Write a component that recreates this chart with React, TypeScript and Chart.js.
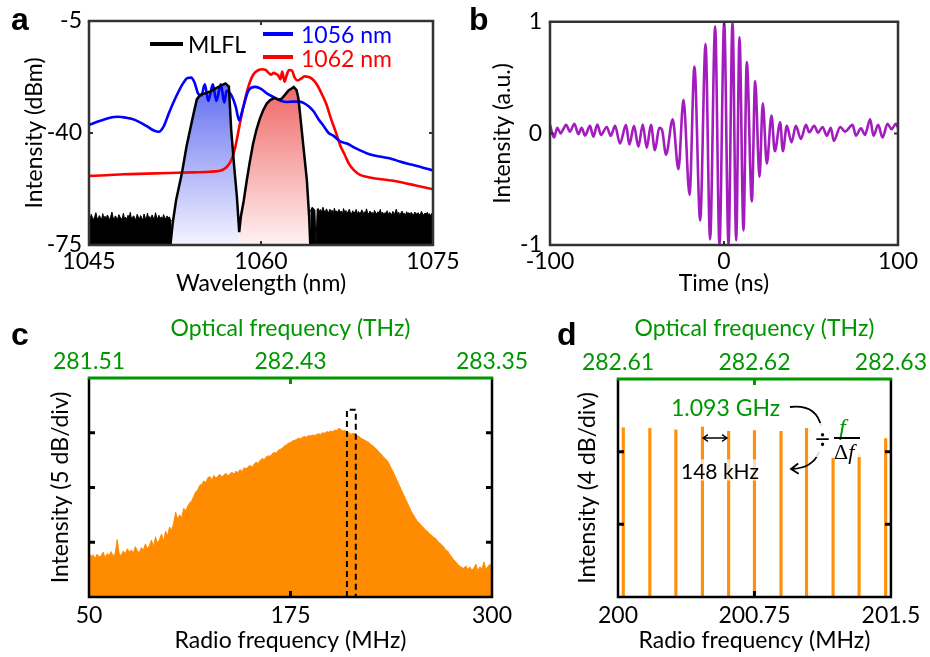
import React, { useEffect, useRef } from 'react';
import { Chart, registerables } from 'chart.js';
Chart.register(...registerables);

type Pt = [number, number];

const FONT = 'Lato, "Open Sans", sans-serif';
const SERIF = '"Liberation Serif", "DejaVu Serif", serif';
const GREEN = 'rgb(0,150,0)';
const ORANGE = 'rgb(255,140,0)';
const PURPLE = 'rgb(163,29,190)';

// ---------------- Panel a ----------------
const aWavelengthTicks = [1045, 1060, 1075];
const aIntensityTicks = [-75, -40, -5];
const aBlue1056: Pt[] = [[1045,-37.5],[1046,-36.2],[1047,-35.1],[1047.5,-34.9],[1048.2,-35.2],[1049,-35.9],[1050,-37.8],[1050.7,-39.3],[1051.1,-39.6],[1051.5,-38],[1052,-33.5],[1052.6,-28.6],[1053.2,-24.5],[1053.6,-22.8],[1053.9,-22.7],[1054.2,-24.2],[1054.5,-27.6],[1054.8,-28.3],[1055.1,-24.8],[1055.4,-30.0],[1055.8,-24.8],[1056.1,-30.0],[1056.5,-24.8],[1056.8,-30.5],[1057,-26.8],[1057.4,-28.1],[1057.8,-31.8],[1058.1,-36.1],[1058.4,-32.6],[1058.9,-26.8],[1059.5,-25.6],[1060,-26.2],[1060.5,-27.6],[1061.1,-28.8],[1061.7,-29.9],[1062.3,-30.3],[1062.8,-30.2],[1063.3,-30.2],[1063.7,-30.6],[1064.2,-31.8],[1064.6,-33.3],[1065,-35.6],[1065.4,-37.5],[1065.9,-40],[1066.3,-40.8],[1066.9,-42.6],[1067.5,-43.3],[1068.1,-44.5],[1068.7,-45.5],[1069.2,-46.3],[1070,-47.1],[1070.7,-47.6],[1071.4,-48.1],[1072.1,-48.9],[1072.8,-49.6],[1073.6,-50.3],[1074.3,-51.0],[1075,-51.7]];
const aRed1062: Pt[] = [[1045,-53.4],[1046.5,-53.2],[1048,-52.9],[1050,-52.7],[1052,-52.5],[1054,-52.3],[1055.5,-52.1],[1056.3,-51.9],[1056.8,-51.2],[1057.2,-49.8],[1057.5,-47.6],[1057.75,-44.5],[1058,-40],[1058.3,-34.5],[1058.6,-29.6],[1058.9,-25.5],[1059.2,-22.6],[1059.5,-21],[1059.8,-20.3],[1060.1,-20.1],[1060.4,-20.3],[1060.7,-21.3],[1060.9,-21.8],[1061.1,-21.2],[1061.3,-21.5],[1061.5,-22.0],[1061.7,-23.2],[1061.85,-20.8],[1062.05,-24.0],[1062.25,-21.8],[1062.45,-20.3],[1062.7,-20.5],[1062.95,-22.8],[1063.2,-23.6],[1063.5,-23.0],[1063.8,-22.3],[1064.1,-22.4],[1064.5,-23.2],[1064.9,-25],[1065.3,-27.8],[1065.7,-31],[1066.1,-35.5],[1066.5,-39.5],[1066.9,-43.8],[1067.3,-46.8],[1067.7,-49.8],[1068.1,-51.6],[1068.6,-53],[1069.2,-53.7],[1070,-54.2],[1071.5,-54.9],[1072.5,-55.6],[1073.5,-56.4],[1075,-57.6]];
const aMlflPeakLeft: Pt[] = [[1052.1,-75],[1052.3,-68.2],[1052.6,-60.9],[1053.1,-52.6],[1053.5,-44.3],[1054,-35.9],[1054.4,-29.5],[1054.7,-28.1],[1055.1,-27.6],[1055.6,-27.0],[1056.1,-26.0],[1056.6,-25.0],[1056.9,-24.5],[1057.2,-25.5],[1057.4,-39.0],[1057.65,-50.0],[1057.9,-60.0],[1058.1,-71.0]];
const aMlflPeakRight: Pt[] = [[1058.1,-71.0],[1058.25,-66.0],[1058.5,-61.0],[1058.75,-55.0],[1059,-49.5],[1059.3,-43.5],[1059.6,-39.0],[1059.9,-35.5],[1060.2,-32.8],[1060.5,-30.8],[1060.8,-29.7],[1061.2,-29.0],[1061.5,-29.6],[1061.8,-29.3],[1062.1,-28.0],[1062.4,-26.7],[1062.7,-26.0],[1062.85,-25.6],[1063.1,-26.6],[1063.25,-29.0],[1063.4,-33.8],[1063.7,-44.3],[1064,-54.7],[1064.2,-66.2],[1064.3,-75.0]];
// MLFL noise floor, sampled every 0.1 nm
const aNoiseStep = 0.1;
const aNoiseLeftStart = 1045;
const aNoiseLeft = [-66.2,-66.8,-65.4,-66.5,-67.0,-66.1,-64.9,-66.6,-66.9,-65.8,-66.4,-67.1,-65.2,-66.7,-66.0,-66.9,-65.6,-66.3,-67.2,-66.0,-64.7,-66.5,-66.8,-65.9,-66.4,-67.0,-65.5,-66.2,-66.9,-66.6,-65.1,-66.8,-66.3,-67.1,-65.7,-66.5,-64.8,-66.9,-66.2,-65.9,-66.7,-67.0,-65.4,-66.3,-66.8,-65.8,-66.6,-67.2,-65.3,-66.4,-66.9,-65.0,-66.7,-66.1,-67.0,-65.6,-66.5,-66.8,-64.9,-66.3,-66.7,-65.7,-66.9,-66.2,-67.1,-65.5,-66.4,-66.8,-65.9,-66.6,-66.2,-67.0,-67.5];
const aNoiseNotch: Pt[] = [[1064.3,-64.5],[1064.45,-63.2],[1064.6,-63.6],[1064.7,-64.2],[1064.8,-75],[1064.9,-63.8]];
const aNoiseRightStart = 1065;
const aNoiseRight = [-63.6,-64.5,-63.9,-64.8,-63.2,-64.2,-64.9,-63.7,-64.4,-65.0,-63.8,-64.6,-64.1,-65.2,-63.5,-64.7,-64.3,-65.0,-63.9,-64.8,-64.4,-65.3,-63.6,-64.9,-64.2,-65.1,-64.6,-63.8,-64.9,-65.2,-64.3,-65.0,-64.7,-63.9,-65.3,-64.5,-65.1,-64.8,-64.0,-65.4,-64.6,-65.0,-63.7,-64.9,-65.3,-64.4,-65.1,-64.8,-65.5,-64.2,-64.9,-65.3,-64.6,-65.0,-63.9,-65.2,-64.7,-65.4,-64.9,-65.1,-64.3,-65.5,-64.8,-65.0,-65.6,-64.5,-65.2,-64.9,-63.8,-65.3,-64.7,-65.6,-65.0,-64.4,-65.3,-65.1,-65.7,-64.6,-65.2,-64.9,-65.5,-64.8,-65.3,-65.8,-64.7,-65.1,-65.4,-64.9,-65.6,-65.2,-64.5,-65.3,-65.7,-65.0,-65.4,-64.8,-65.5,-65.2,-65.9,-65.1,-64.9];

// ---------------- Panel b ----------------
const bTimeTicks = [-100, 0, 100];
const bIntensityTicks = [-1, 0, 1];
const bSignal: Pt[] = [[-100,0.076],[-97.7,-0.037],[-95.8,0.05],[-93.9,0.0],[-92.3,0.04],[-90.8,0.076],[-88.5,0.016],[-86,0.087],[-83.7,-0.007],[-81.8,0.05],[-79.9,-0.02],[-77,0.067],[-75.1,-0.03],[-72.8,0.08],[-70.7,-0.013],[-67.4,0.058],[-65.1,-0.022],[-62.6,0.067],[-59.8,-0.09],[-56.3,0.076],[-54.4,-0.10],[-51.7,0.067],[-49.2,-0.12],[-46.7,0.08],[-44.4,-0.13],[-42,0.076],[-39.7,-0.15],[-37.2,0.05],[-35.6,0.03],[-33.3,-0.19],[-29.5,0.126],[-26.2,-0.32],[-23.3,0.30],[-19.8,-0.55],[-17.0,0.60],[-13.7,-0.78],[-10.6,0.80],[-8.0,-0.95],[-5.1,0.96],[-2.6,-1.0],[0.1,1.0],[2.6,-1.0],[4.9,1.0],[7.0,-0.96],[8.9,0.86],[11.2,-0.87],[13.1,0.64],[16.0,-0.61],[17.9,0.47],[20.4,-0.39],[22.3,0.27],[24.6,-0.27],[27.3,0.16],[29.2,-0.16],[32.3,0.10],[33.8,-0.16],[36.1,0.067],[38.8,-0.08],[41.3,0.067],[44.2,-0.05],[47.1,0.076],[49,0.01],[51.8,0.067],[54.1,0.007],[56.6,0.058],[59.1,-0.02],[61.4,0.05],[63.1,-0.067],[66.8,0.058],[69.5,0.016],[73.9,0.076],[75.8,-0.02],[78.7,0.046],[81,-0.013],[84,0.126],[85.9,-0.02],[88.6,0.076],[91.1,-0.037],[94,0.087],[96.3,0.037],[98.8,0.087],[100,0.05]];

// ---------------- Panel c ----------------
const cRfTicks = [50, 175, 300];
const cOpticalTicks = ['281.51', '282.43', '283.35'];
const cDivTicks = [0, 1, 2, 3, 4];
const cMarkerBand = [210, 215.5];
const cMarkerTop = 3.42;
// RF spectrum (div), sampled every 1.25 MHz from 50 MHz
const cSpectrumStart = 50;
const cSpectrumStep = 1.25;
const cSpectrum = [
  0.80,0.74,0.77,0.70,0.78,0.73,0.75,0.82,0.72,0.79,
  0.76,0.83,0.74,0.80,1.05,0.78,0.76,0.84,0.79,0.88,
  0.82,0.86,0.80,0.92,0.84,0.81,0.90,0.86,0.97,0.88,
  0.94,1.04,0.92,1.10,0.98,1.05,1.15,1.02,1.20,1.12,
  1.28,1.22,1.35,1.55,1.42,1.50,1.45,1.62,1.58,1.66,
  1.72,1.76,1.84,1.92,1.96,2.04,2.06,2.12,2.09,2.18,
  2.20,2.14,2.22,2.17,2.21,2.24,2.19,2.23,2.26,2.21,
  2.25,2.28,2.24,2.30,2.27,2.33,2.29,2.36,2.34,2.38,
  2.40,2.37,2.43,2.46,2.44,2.50,2.53,2.51,2.56,2.58,
  2.57,2.62,2.64,2.63,2.68,2.70,2.72,2.76,2.78,2.81,
  2.82,2.85,2.86,2.88,2.90,2.89,2.92,2.93,2.92,2.95,
  2.94,2.96,2.95,2.97,2.98,2.97,3.00,2.99,3.02,3.01,
  3.03,3.02,3.05,3.04,3.08,3.06,3.03,3.04,3.01,3.00,
  2.97,2.99,2.98,2.95,2.93,2.90,2.88,2.86,2.84,2.82,
  2.78,2.76,2.72,2.69,2.64,2.61,2.56,2.53,2.49,2.43,
  2.35,2.28,2.20,2.12,2.04,1.96,1.88,1.80,1.72,1.64,
  1.56,1.50,1.44,1.38,1.35,1.30,1.27,1.22,1.20,1.15,
  1.13,1.09,1.07,1.02,0.99,0.95,0.92,0.86,0.84,0.78,
  0.73,0.68,0.64,0.60,0.56,0.54,0.52,0.57,0.50,0.55,
  0.49,0.53,0.60,0.48,0.55,0.51,0.64,0.50,0.56,0.60,
  0.54,
];

// ---------------- Panel d ----------------
const dRfTicks = [200, 200.75, 201.5];
const dOpticalTicks = ['282.61', '282.62', '282.63'];
const dDivTicks = [0, 1, 2, 3];
const dCombFreqs = [200.029, 200.175, 200.318, 200.464, 200.608, 200.75, 200.896, 201.036, 201.182, 201.325, 201.471];
const dCombLevels = [2.33, 2.32, 2.30, 2.34, 2.28, 2.29, 2.28, 2.32, 1.91, 1.97, 2.18];

const FS = 23;
Chart.defaults.font.family = FONT;
Chart.defaults.font.size = FS;
Chart.defaults.color = '#000';

const xy = (pts: Pt[]) => pts.map(([x, y]) => ({ x, y }));
const gridXY = (start: number, step: number, vals: number[]) => vals.map((y, i) => ({ x: +(start + i * step).toFixed(3), y }));
const setTicks = (vals: number[]) => (s: any) => { s.ticks = vals.map((v) => ({ value: v })); };

function framePlugin(cfg: { color: string; width: number; topColor: string; topWidth: number; tickLen: number; tickWidth: number; xId: string; yId: string }) {
  return {
    id: 'frame',
    afterDatasetsDraw(chart: any) {
      const { ctx, chartArea: a } = chart;
      const xs = chart.scales[cfg.xId];
      const ys = chart.scales[cfg.yId];
      const xt = xs.ticks.map((t: any) => xs.getPixelForValue(t.value)).filter((p: number) => p > a.left + 3 && p < a.right - 3);
      const yt = ys.ticks.map((t: any) => ys.getPixelForValue(t.value)).filter((p: number) => p > a.top + 3 && p < a.bottom - 3);
      ctx.save();
      ctx.lineWidth = cfg.tickWidth;
      ctx.strokeStyle = cfg.color;
      ctx.beginPath();
      xt.forEach((p: number) => { ctx.moveTo(p, a.bottom); ctx.lineTo(p, a.bottom - cfg.tickLen); });
      yt.forEach((p: number) => {
        ctx.moveTo(a.left, p); ctx.lineTo(a.left + cfg.tickLen, p);
        ctx.moveTo(a.right, p); ctx.lineTo(a.right - cfg.tickLen, p);
      });
      ctx.stroke();
      ctx.strokeStyle = cfg.topColor;
      ctx.beginPath();
      xt.forEach((p: number) => { ctx.moveTo(p, a.top); ctx.lineTo(p, a.top + cfg.tickLen); });
      ctx.stroke();
      ctx.lineWidth = cfg.width;
      ctx.strokeStyle = cfg.color;
      ctx.beginPath();
      ctx.moveTo(a.left, a.top); ctx.lineTo(a.left, a.bottom); ctx.lineTo(a.right, a.bottom); ctx.lineTo(a.right, a.top);
      ctx.stroke();
      ctx.lineWidth = cfg.topWidth;
      ctx.strokeStyle = cfg.topColor;
      ctx.beginPath();
      ctx.moveTo(a.left - cfg.width / 2, a.top); ctx.lineTo(a.right + cfg.width / 2, a.top);
      ctx.stroke();
      ctx.restore();
    },
  };
}

const axisBase = {
  grid: { display: false, drawTicks: false },
  border: { display: false },
};

function gradientFill(top: string, bottom: string, topValue: number) {
  return (c: any) => {
    const chart = c.chart;
    const area = chart.chartArea;
    if (!area) return top;
    const g = chart.ctx.createLinearGradient(0, chart.scales.y.getPixelForValue(topValue), 0, area.bottom);
    g.addColorStop(0, top);
    g.addColorStop(1, bottom);
    return g;
  };
}

function makeA(canvas: HTMLCanvasElement) {
  return new Chart(canvas, {
    type: 'line',
    data: {
      datasets: [
        { data: xy([...aMlflPeakLeft, ...aMlflPeakRight.slice(1)]), borderColor: '#000', borderWidth: 2.5, fill: false },
        { data: xy(aBlue1056), borderColor: 'rgb(0,0,255)', borderWidth: 2.6, fill: false, cubicInterpolationMode: 'monotone' },
        { data: xy(aRed1062), borderColor: 'rgb(255,0,0)', borderWidth: 2.6, fill: false, cubicInterpolationMode: 'monotone' },
        { data: gridXY(aNoiseLeftStart, aNoiseStep, aNoiseLeft), borderColor: '#000', borderWidth: 1, fill: 'start', backgroundColor: '#000' },
        { data: [...xy(aNoiseNotch), ...gridXY(aNoiseRightStart, aNoiseStep, aNoiseRight)], borderColor: '#000', borderWidth: 1, fill: 'start', backgroundColor: '#000' },
        { data: xy(aMlflPeakLeft), borderWidth: 0, borderColor: 'rgba(0,0,0,0)', fill: 'start', backgroundColor: gradientFill('rgb(100,112,240)', 'rgb(244,244,255)', -25) },
        { data: xy(aMlflPeakRight), borderWidth: 0, borderColor: 'rgba(0,0,0,0)', fill: 'start', backgroundColor: gradientFill('rgb(240,105,105)', 'rgb(255,242,242)', -26) },
      ],
    } as any,
    options: {
      animation: false, responsive: false, devicePixelRatio: 1,
      layout: { padding: { top: 21, right: 37, left: 0, bottom: 0 } },
      plugins: { legend: { display: false }, tooltip: { enabled: false } },
      elements: { point: { radius: 0 }, line: { tension: 0 } },
      scales: {
        x: { ...axisBase, type: 'linear', min: 1045, max: 1075, afterBuildTicks: setTicks(aWavelengthTicks),
          ticks: { padding: 3, maxRotation: 0, autoSkip: false, callback: (v: any) => String(v) },
          title: { display: true, text: 'Wavelength (nm)', padding: { top: 0, bottom: 3 } },
          afterFit: (s: any) => { s.height = 55; } },
        y: { ...axisBase, type: 'linear', min: -75, max: -5, afterBuildTicks: setTicks(aIntensityTicks),
          ticks: { padding: 7, autoSkip: false, callback: (v: any) => String(v) },
          title: { display: true, text: 'Intensity (dBm)', padding: { top: 21, bottom: 0 } },
          afterFit: (s: any) => { s.width = 89; } },
      },
    } as any,
    plugins: [framePlugin({ color: '#333', width: 2.5, topColor: '#333', topWidth: 2.5, tickLen: 4, tickWidth: 2, xId: 'x', yId: 'y' })],
  });
}

function makeB(canvas: HTMLCanvasElement) {
  return new Chart(canvas, {
    type: 'line',
    data: { datasets: [{ data: xy(bSignal), borderColor: PURPLE, borderWidth: 2.6, fill: false, cubicInterpolationMode: 'monotone' }] } as any,
    options: {
      animation: false, responsive: false, devicePixelRatio: 1,
      layout: { padding: { top: 20, right: 32, left: 0, bottom: 0 } },
      plugins: { legend: { display: false }, tooltip: { enabled: false } },
      elements: { point: { radius: 0 } },
      scales: {
        x: { ...axisBase, type: 'linear', min: -100, max: 100, afterBuildTicks: setTicks(bTimeTicks),
          ticks: { padding: 3, maxRotation: 0, autoSkip: false, callback: (v: any) => String(v) },
          title: { display: true, text: 'Time (ns)', padding: { top: 0, bottom: 3 } },
          afterFit: (s: any) => { s.height = 55; } },
        y: { ...axisBase, type: 'linear', min: -1, max: 1, afterBuildTicks: setTicks(bIntensityTicks),
          ticks: { padding: 8, autoSkip: false, callback: (v: any) => String(v) },
          title: { display: true, text: 'Intensity (a.u.)', padding: { top: 19, bottom: 0 } },
          afterFit: (s: any) => { s.width = 80; } },
      },
    } as any,
    plugins: [framePlugin({ color: '#333', width: 2.5, topColor: '#333', topWidth: 2.5, tickLen: 4, tickWidth: 2, xId: 'x', yId: 'y' })],
  });
}

const markerPlugin = {
  id: 'marker',
  afterDatasetsDraw(chart: any) {
    const { ctx, scales } = chart;
    const x1 = scales.x.getPixelForValue(cMarkerBand[0]);
    const x2 = scales.x.getPixelForValue(cMarkerBand[1]);
    const yt = scales.y.getPixelForValue(cMarkerTop);
    const yb = scales.y.getPixelForValue(0);
    ctx.save();
    ctx.strokeStyle = '#000';
    ctx.lineWidth = 2;
    ctx.setLineDash([6, 4]);
    ctx.beginPath();
    ctx.moveTo(x1, yb); ctx.lineTo(x1, yt); ctx.lineTo(x2, yt); ctx.lineTo(x2, yb);
    ctx.stroke();
    ctx.restore();
  },
};

function rfScales(min: number, max: number, rfTicks: number[], opt: string[], divTicks: number[], divMax: number, yTitle: string, yWidth: number, yTitlePad: number, topH: number) {
  return {
    x: { ...axisBase, type: 'linear', position: 'bottom', min, max, offset: false, afterBuildTicks: setTicks(rfTicks),
      ticks: { padding: 5, maxRotation: 0, autoSkip: false, callback: (v: any) => String(v) },
      title: { display: true, text: 'Radio frequency (MHz)', padding: { top: 0, bottom: 3 } },
      afterFit: (s: any) => { s.height = 60; } },
    x2: { ...axisBase, type: 'linear', position: 'top', min, max, offset: false, afterBuildTicks: setTicks(rfTicks),
      ticks: { padding: 3, color: GREEN, maxRotation: 0, autoSkip: false, callback: (_v: any, i: number) => opt[i] },
      title: { display: true, text: 'Optical frequency (THz)', color: GREEN, padding: { top: 15, bottom: 0 } },
      afterFit: (s: any) => { s.height = topH; } },
    y: { ...axisBase, type: 'linear', min: 0, max: divMax, afterBuildTicks: setTicks(divTicks),
      ticks: { display: false },
      title: { display: true, text: yTitle, padding: { top: yTitlePad, bottom: 0 } },
      afterFit: (s: any) => { s.width = yWidth; } },
  };
}

function makeC(canvas: HTMLCanvasElement) {
  return new Chart(canvas, {
    type: 'line',
    data: { datasets: [{ data: gridXY(cSpectrumStart, cSpectrumStep, cSpectrum), borderColor: ORANGE, borderWidth: 1, fill: 'start', backgroundColor: ORANGE }] } as any,
    options: {
      animation: false, responsive: false, devicePixelRatio: 1,
      layout: { padding: { top: 0, right: 48, left: 0, bottom: 0 } },
      plugins: { legend: { display: false }, tooltip: { enabled: false } },
      elements: { point: { radius: 0 }, line: { tension: 0 } },
      scales: rfScales(50, 300, cRfTicks, cOpticalTicks, cDivTicks, 4, 'Intensity (5 dB/div)', 89, 47, 78),
    } as any,
    plugins: [markerPlugin, framePlugin({ color: '#000', width: 2.5, topColor: GREEN, topWidth: 3, tickLen: 6, tickWidth: 3, xId: 'x', yId: 'y' })],
  });
}

function arrowHead(ctx: CanvasRenderingContext2D, x: number, y: number, ang: number, len: number) {
  ctx.moveTo(x + len * Math.cos(ang + 0.6), y + len * Math.sin(ang + 0.6));
  ctx.lineTo(x, y);
  ctx.lineTo(x + len * Math.cos(ang - 0.6), y + len * Math.sin(ang - 0.6));
}

const dAnnotPlugin = {
  id: 'dAnnot',
  afterDraw(chart: any) {
    const ctx = chart.ctx as CanvasRenderingContext2D;
    ctx.save();
    ctx.strokeStyle = '#000';
    ctx.lineWidth = 1.8;
    ctx.beginPath();
    ctx.moveTo(250, 107);
    ctx.quadraticCurveTo(276, 104, 281, 126);
    ctx.stroke();
    ctx.beginPath();
    ctx.moveTo(279, 152);
    ctx.quadraticCurveTo(273, 168, 252, 169);
    arrowHead(ctx, 251, 169, -0.05, 9);
    ctx.stroke();
    ctx.lineWidth = 1.3;
    ctx.beginPath();
    ctx.moveTo(163, 138); ctx.lineTo(187, 138);
    arrowHead(ctx, 163, 138, 0, 6);
    arrowHead(ctx, 187, 138, Math.PI, 6);
    ctx.stroke();
    ctx.restore();
  },
};

function makeD(canvas: HTMLCanvasElement) {
  return new Chart(canvas, {
    type: 'bar',
    data: { datasets: [{ data: dCombFreqs.map((f, i) => ({ x: f, y: dCombLevels[i] })), backgroundColor: 'rgb(255,145,10)', barThickness: 2.5, grouped: false }] } as any,
    options: {
      animation: false, responsive: false, devicePixelRatio: 1,
      layout: { padding: { top: 0, right: 38, left: 0, bottom: 0 } },
      plugins: { legend: { display: false }, tooltip: { enabled: false } },
      scales: rfScales(200, 201.5, dRfTicks, dOpticalTicks, dDivTicks, 3, 'Intensity (4 dB/div)', 78, 34, 79),
    } as any,
    plugins: [framePlugin({ color: '#000', width: 2.5, topColor: GREEN, topWidth: 3, tickLen: 6, tickWidth: 3, xId: 'x', yId: 'y' }), dAnnotPlugin],
  });
}

function ChartBox({ left, top, width, height, make }: { left: number; top: number; width: number; height: number; make: (c: HTMLCanvasElement) => Chart }) {
  const ref = useRef<HTMLCanvasElement>(null);
  useEffect(() => {
    const chart = make(ref.current!);
    return () => chart.destroy();
  }, []);
  return <canvas ref={ref} width={width} height={height} style={{ position: 'absolute', left, top, width, height }} />;
}

function Txt({ x, y, size = 22, color = '#000', family = FONT, bold = false, italic = false, bg, children }: any) {
  return (
    <div style={{ position: 'absolute', left: x, top: y, transform: 'translateY(-50%)', fontSize: size, lineHeight: 1, color, fontFamily: family, fontWeight: bold ? 700 : 400, fontStyle: italic ? 'italic' : 'normal', whiteSpace: 'nowrap', background: bg }}>
      {children}
    </div>
  );
}

function Letter({ x, y, children }: any) {
  return <div style={{ position: 'absolute', left: x, top: y, fontSize: 32, lineHeight: 1, fontFamily: '"Liberation Sans", Arial, sans-serif', fontWeight: 700, color: '#000' }}>{children}</div>;
}

function Bar({ x, y, w, h, color }: any) {
  return <div style={{ position: 'absolute', left: x, top: y, width: w, height: h, background: color }} />;
}

export default function App() {
  return (
    <div style={{ position: 'absolute', left: 0, top: 0, width: 930, height: 657, background: '#fff', overflow: 'hidden', fontFamily: FONT }}>
      <ChartBox left={0} top={0} width={470} height={300} make={makeA} />
      <ChartBox left={470} top={0} width={460} height={300} make={makeB} />
      <ChartBox left={0} top={300} width={540} height={357} make={makeC} />
      <ChartBox left={540} top={300} width={390} height={357} make={makeD} />

      <Letter x={11} y={3}>a</Letter>
      <Letter x={469} y={3}>b</Letter>
      <Letter x={11} y={318}>c</Letter>
      <Letter x={557} y={318}>d</Letter>

      {/* legend a */}
      <Bar x={150} y={42} w={33} h={4} color="#000" />
      <Txt x={188} y={44} size={23}>MLFL</Txt>
      <Bar x={263} y={32} w={30} h={4} color="rgb(0,0,255)" />
      <Txt x={301} y={34} size={23} color="rgb(0,0,255)">1056 nm</Txt>
      <Bar x={263} y={54.5} w={30} h={4} color="rgb(255,0,0)" />
      <Txt x={301} y={58} size={23} color="rgb(255,0,0)">1062 nm</Txt>

      {/* annotations d */}
      <Txt x={671} y={407} size={23} color={GREEN}>1.093 GHz</Txt>
      <Txt x={681} y={470} size={21} bg="rgba(255,255,255,0.7)">148 kHz</Txt>
      <div style={{ position: 'absolute', left: 813, top: 423, width: 57, height: 34, background: 'rgba(255,255,255,0.85)' }} />
      <Txt x={815} y={439} size={26}>÷</Txt>
      <Txt x={839} y={427} size={24} family={SERIF} italic color={GREEN}>f</Txt>
      <Bar x={834} y={437} w={26} h={1.6} color="#000" />
      <Txt x={834} y={452} size={22} family={SERIF}>Δ<i>f</i></Txt>
    </div>
  );
}
